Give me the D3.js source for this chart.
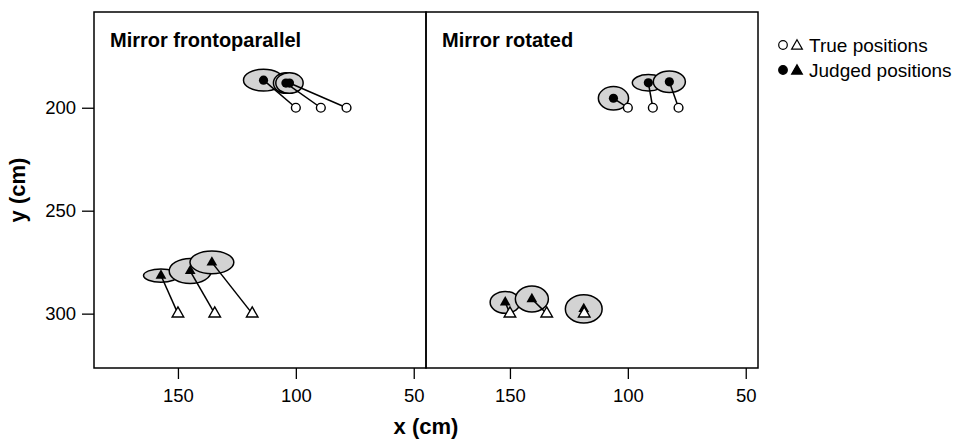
<!DOCTYPE html>
<html lang="en">
<head>
<meta charset="utf-8">
<title>Mirror positions</title>
<script src="https://d3js.org/d3.v7.min.js"></script>
<style>
    body { margin: 0; background: #fff; }
    text { font-family: "Liberation Sans", Arial, sans-serif; }
    .tick text { font-size: 18.5px; }
</style>
</head>
<body>
<svg id="chart"></svg>
<script>
    // values (cm)
    const panelTitles = ["Mirror frontoparallel", "Mirror rotated"];
    const xTicks = [150, 100, 50];
    const yTicks = [200, 250, 300];

    const trueCircleX = [100, 89.4, 78.5];
    const trueCircleY = [200, 200, 200];
    const trueTriX = [150, 134.4, 118.5];
    const trueTriY = [300, 300, 300];

    // judged positions + ellipse half-axes, one array per panel
    const judgedCircleX = [[113.7, 104.2, 102.7], [106.1, 91.3, 82.4]];
    const judgedCircleY = [[186.6, 188.0, 188.0], [195.4, 187.9, 187.4]];
    const circleRx = [[8.5, 5.3, 5.8], [6.4, 6.8, 6.8]];
    const circleRy = [[5.3, 5.0, 5.0], [5.7, 4.0, 5.2]];

    const judgedTriX = [[157.2, 144.8, 135.6], [152.0, 140.7, 118.7]];
    const judgedTriY = [[281.5, 279.3, 275.1], [294.5, 292.9, 297.7]];
    const triRx = [[7.4, 8.9, 9.3], [6.4, 7.0, 7.8]];
    const triRy = [[3.2, 6.1, 5.5], [5.3, 6.3, 6.9]];

    const width = 962, height = 439;
    const plotTop = 12, plotBottom = 368;
    const panelLeft = [94, 426], panelW = 332;

    const svg = d3.select("#chart").attr("width", width).attr("height", height);

    const y = d3.scaleLinear().domain([153.5, 326.4]).range([plotTop, plotBottom]);

    const triSym = d3.symbol().type(d3.symbolTriangle).size(58);
    const triSymSmall = d3.symbol().type(d3.symbolTriangle).size(50);

    panelTitles.forEach((title, p) => {
        let x = d3.scaleLinear().domain([185.6, 44.8])
            .range([panelLeft[p], panelLeft[p] + panelW]);
        let g = svg.append("g");

        // axis
        let xAxis = g.append("g")
            .attr("transform", `translate(0,${plotBottom})`)
            .call(d3.axisBottom(x).tickValues(xTicks).tickSize(11).tickPadding(10));
        xAxis.select(".domain").remove();
        xAxis.selectAll("line").attr("stroke", "#000").attr("stroke-width", 1.3);
        xAxis.selectAll("text").attr("fill", "#000");

        if (p === 0) {
            let yAxis = g.append("g")
                .attr("transform", `translate(${panelLeft[0]},0)`)
                .call(d3.axisLeft(y).tickValues(yTicks).tickSize(12).tickPadding(6));
            yAxis.select(".domain").remove();
            yAxis.selectAll("line").attr("stroke", "#000").attr("stroke-width", 1.3);
            yAxis.selectAll("text").attr("fill", "#000");
        }

        let ellC = d3.range(3).map(i => ({cx: judgedCircleX[p][i], cy: judgedCircleY[p][i], rx: circleRx[p][i], ry: circleRy[p][i]}));
        let ellT = d3.range(3).map(i => ({cx: judgedTriX[p][i], cy: judgedTriY[p][i], rx: triRx[p][i], ry: triRy[p][i]}));

        g.selectAll("ellipse.e")
            .data(ellC.concat(ellT))
            .join("ellipse")
            .attr("cx", d => x(d.cx))
            .attr("cy", d => y(d.cy))
            .attr("rx", d => Math.abs(x(d.rx) - x(0)))
            .attr("ry", d => y(d.ry) - y(0))
            .attr("fill", "#d3d3d3")
            .attr("stroke", "#000")
            .attr("stroke-width", 1.5);

        // connecting lines true -> judged
        g.selectAll("line.c")
            .data(d3.range(3))
            .join("line")
            .attr("x1", i => x(trueCircleX[i])).attr("y1", i => y(trueCircleY[i]))
            .attr("x2", i => x(judgedCircleX[p][i])).attr("y2", i => y(judgedCircleY[p][i]))
            .attr("stroke", "#000").attr("stroke-width", 1.5);
        g.append("g").selectAll("line")
            .data(d3.range(3))
            .join("line")
            .attr("x1", i => x(trueTriX[i])).attr("y1", i => y(trueTriY[i]))
            .attr("x2", i => x(judgedTriX[p][i])).attr("y2", i => y(judgedTriY[p][i]))
            .attr("stroke", "#000").attr("stroke-width", 1.5);

        // judged
        g.append("g").selectAll("circle")
            .data(d3.range(3))
            .join("circle")
            .attr("cx", i => x(judgedCircleX[p][i]))
            .attr("cy", i => y(judgedCircleY[p][i]))
            .attr("r", 4.6)
            .attr("fill", "#000");
        g.append("g").selectAll("path")
            .data(d3.range(3))
            .join("path")
            .attr("d", triSymSmall)
            .attr("transform", i => `translate(${x(judgedTriX[p][i])},${y(judgedTriY[p][i])})`)
            .attr("fill", "#000");

        // true
        g.append("g").selectAll("circle")
            .data(d3.range(3))
            .join("circle")
            .attr("cx", i => x(trueCircleX[i]))
            .attr("cy", i => y(trueCircleY[i]))
            .attr("r", 4.4)
            .attr("fill", "#fff").attr("stroke", "#000").attr("stroke-width", 1.4);
        g.append("g").selectAll("path")
            .data(d3.range(3))
            .join("path")
            .attr("d", triSym)
            .attr("transform", i => `translate(${x(trueTriX[i])},${y(trueTriY[i])})`)
            .attr("fill", "#fff").attr("stroke", "#000").attr("stroke-width", 1.4);

        // frame + title
        g.append("rect")
            .attr("x", panelLeft[p]).attr("y", plotTop)
            .attr("width", panelW).attr("height", plotBottom - plotTop)
            .attr("fill", "none").attr("stroke", "#000").attr("stroke-width", 1.5);
        g.append("text")
            .attr("x", panelLeft[p] + 16).attr("y", 47)
            .attr("font-size", 20).attr("font-weight", "bold")
            .text(title);
    });

    // axis titles
    svg.append("text")
        .attr("x", 426).attr("y", 434)
        .attr("text-anchor", "middle")
        .attr("font-size", 22).attr("font-weight", "bold")
        .text("x (cm)");
    svg.append("text")
        .attr("transform", "translate(25,190) rotate(-90)")
        .attr("text-anchor", "middle")
        .attr("font-size", 22).attr("font-weight", "bold")
        .text("y (cm)");

    // legend
    let legend = svg.append("g");
    let legRows = [["True positions", "#fff"], ["Judged positions", "#000"]];
    legRows.forEach((r, i) => {
        let ly = 45 + i * 25;
        legend.append("circle").attr("cx", 783).attr("cy", ly).attr("r", 4.3)
            .attr("fill", r[1]).attr("stroke", "#000").attr("stroke-width", 1.2);
        legend.append("path").attr("d", triSymSmall)
            .attr("transform", `translate(797,${ly + 1})`)
            .attr("fill", r[1]).attr("stroke", "#000").attr("stroke-width", 1.2);
        legend.append("text").attr("x", 809).attr("y", ly + 7)
            .attr("font-size", 19)
            .text(r[0]);
    });
</script>
</body>
</html>
